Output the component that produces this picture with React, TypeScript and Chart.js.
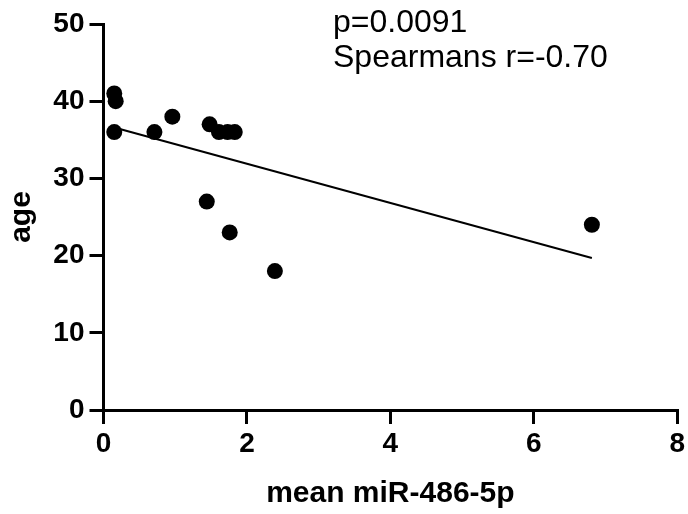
import React, { useEffect, useRef } from "react";
import { Chart, registerables } from "chart.js";

Chart.register(...registerables);

const mirValues = [0.15, 0.17, 0.15, 0.71, 0.96, 1.48, 1.61, 1.73, 1.83, 1.44, 1.76, 2.39, 6.81];
const ageValues = [41, 40, 36, 36, 38, 37, 36, 36, 36, 27, 23, 18, 24];
const fitX = [0.15, 6.81];
const fitY = [36.6, 19.7];
const annotationLines = ["p=0.0091", "Spearmans r=-0.70"];
const xTitle = "mean miR-486-5p";
const yTitle = "age";

const FONT = '"Liberation Sans", Arial, sans-serif';

const annotationPlugin = {
  id: "statsText",
  afterDraw(chart: any) {
    const ctx = chart.ctx;
    ctx.save();
    ctx.fillStyle = "#000";
    ctx.font = `32px ${FONT}`;
    ctx.textAlign = "left";
    ctx.textBaseline = "alphabetic";
    ctx.fillText(annotationLines[0], 333, 32);
    ctx.fillText(annotationLines[1], 333, 67);
    ctx.restore();
  },
};

export default function App() {
  const ref = useRef<HTMLCanvasElement | null>(null);
  useEffect(() => {
    if (!ref.current) return;
    const chart = new Chart(ref.current, {
      type: "scatter",
      data: {
        datasets: [
          {
            type: "line",
            data: fitX.map((x, i) => ({ x, y: fitY[i] })),
            borderColor: "#000",
            borderWidth: 2,
            pointRadius: 0,
            fill: false,
          } as any,
          {
            type: "scatter",
            data: mirValues.map((x, i) => ({ x, y: ageValues[i] })),
            backgroundColor: "#000",
            borderColor: "#000",
            pointRadius: 8,
            borderWidth: 0,
          },
        ],
      },
      options: {
        responsive: false,
        animation: false,
        devicePixelRatio: 1,
        layout: { padding: { top: 24, right: 9, left: 0, bottom: 0 } },
        plugins: { legend: { display: false }, tooltip: { enabled: false } },
        scales: {
          x: {
            type: "linear",
            min: 0,
            max: 8,
            ticks: {
              stepSize: 2,
              color: "#000",
              font: { family: FONT, size: 28, weight: "bold" },
              padding: 3,
            },
            grid: {
              display: true,
              drawOnChartArea: false,
              drawTicks: true,
              tickLength: 14,
              lineWidth: 3,
              color: "#000",
            },
            border: { display: true, width: 3, color: "#000" },
            title: {
              display: true,
              text: xTitle,
              color: "#000",
              font: { family: FONT, size: 30, weight: "bold" },
              padding: { top: 0, bottom: 2 },
            },
            afterFit: (s: any) => {
              s.height = 104;
            },
          },
          y: {
            type: "linear",
            min: 0,
            max: 50,
            ticks: {
              stepSize: 10,
              color: "#000",
              font: { family: FONT, size: 28, weight: "bold" },
              padding: 5,
            },
            grid: {
              display: true,
              drawOnChartArea: false,
              drawTicks: true,
              tickLength: 14,
              lineWidth: 3,
              color: "#000",
            },
            border: { display: true, width: 3, color: "#000" },
            title: {
              display: true,
              text: yTitle,
              color: "#000",
              font: { family: FONT, size: 30, weight: "bold" },
              padding: { top: 4, bottom: 0 },
            },
            afterFit: (s: any) => {
              s.width = 103.5;
            },
          },
        },
      },
      plugins: [annotationPlugin],
    });
    return () => chart.destroy();
  }, []);
  return (
    <div style={{ position: "fixed", left: 0, top: 0, width: 688, height: 514, background: "#fff" }}>
      <canvas ref={ref} width={688} height={514} style={{ width: 688, height: 514, display: "block" }} />
    </div>
  );
}
